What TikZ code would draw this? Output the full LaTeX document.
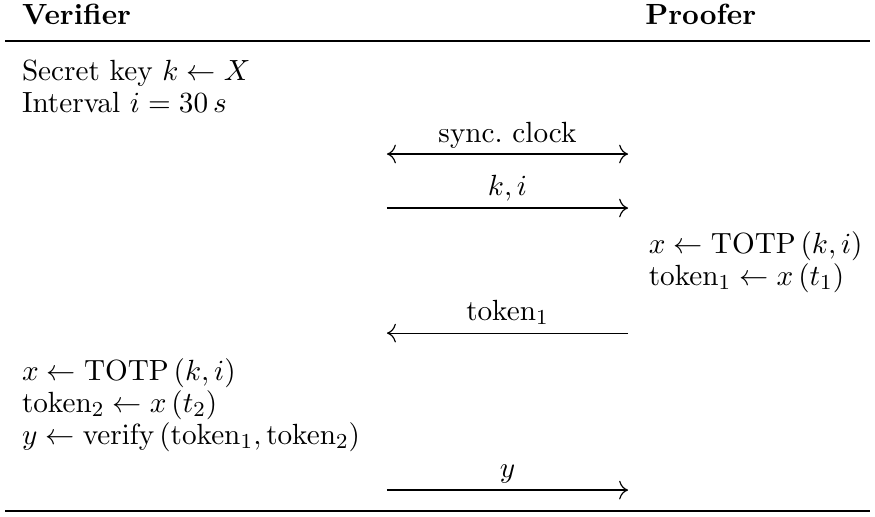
\documentclass[tikz,border=0pt]{standalone}
\usepackage{amsmath}
\usetikzlibrary{arrows.meta}
\begin{document}
\begin{tikzpicture}[x=1pt,y=1pt,
  every node/.style={font=\fontsize{10.95}{13.6}\selectfont},
  txt/.style={anchor=base west,inner sep=0pt,outer sep=0pt},
  lbl/.style={anchor=base,inner sep=0pt,outer sep=0pt},
  >={To[scale=1.3]},
  msg/.style={->,line width=0.44pt},
  rule/.style={line width=1.05pt}]
\useasboundingbox (0,0) rectangle (328.1,-193.5);
% header
\node[txt,font=\fontsize{10.95}{13.6}\selectfont\bfseries] (ver) at (8.25,-9.2) {Verifier};
\node[txt,font=\fontsize{10.95}{13.6}\selectfont\bfseries] (pro) at (242,-9.2) {Proofer};
\coordinate (rtl) at (1.9,-15.4);
\coordinate (rtr) at (326.2,-15.4);
\draw[rule] (rtl) -- (rtr);
% verifier setup
\node[txt] (v1) at (8.25,-30) {Secret key $k \leftarrow X$};
\node[txt] (v2) at (8.25,-42) {Interval $i = 30\,s$};
% sync clock
\coordinate (a1l) at (145.1,-57.75);
\coordinate (a1r) at (235.5,-57.75);
\draw[msg,<->] (a1l) -- (a1r);
\node[lbl] (l1) at (190.3,-53.3) {sync.\ clock};
% k,i
\coordinate (a2l) at (145.1,-78);
\coordinate (a2r) at (235.5,-78);
\draw[msg] (a2l) -- (a2r);
\node[lbl] (l2) at (190.3,-73.3) {$k,i$};
% proofer
\node[txt] (p1) at (243.3,-94.9) {$x \leftarrow \mathrm{TOTP}\,(k,i)$};
\node[txt] (p2) at (243.3,-106.9) {$\mathrm{token}_1 \leftarrow x\,(t_1)$};
% token1
\coordinate (a3l) at (145.1,-124.9);
\coordinate (a3r) at (235.5,-124.9);
\draw[msg] (a3r) -- (a3l);
\node[lbl] (l3) at (190.3,-120.2) {$\mathrm{token}_1$};
% verifier check
\node[txt] (v3) at (8.25,-142.5) {$x \leftarrow \mathrm{TOTP}\,(k,i)$};
\node[txt] (v4) at (8.25,-154.5) {$\mathrm{token}_2 \leftarrow x\,(t_2)$};
\node[txt] (v5) at (8.25,-166.5) {$y \leftarrow \mathrm{verify}\,(\mathrm{token}_1,\mathrm{token}_2)$};
% y
\coordinate (a4l) at (145.1,-183.75);
\coordinate (a4r) at (235.5,-183.75);
\draw[msg] (a4l) -- (a4r);
\node[lbl] (l4) at (190.3,-179) {$y$};
% bottom rule
\coordinate (rbl) at (1.9,-191.6);
\coordinate (rbr) at (326.2,-191.6);
\draw[rule] (rbl) -- (rbr);
\end{tikzpicture}
\end{document}
